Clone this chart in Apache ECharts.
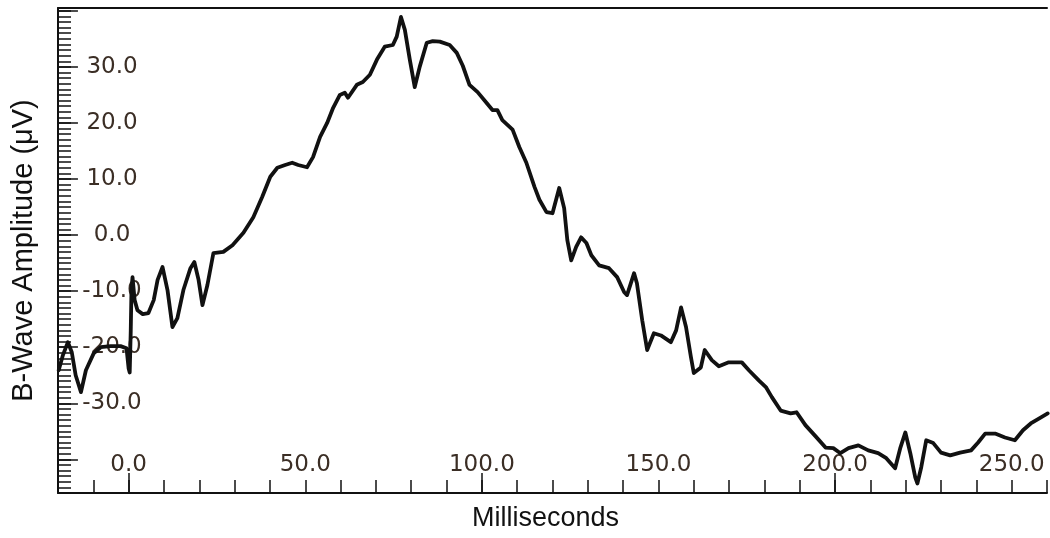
<!DOCTYPE html>
<html><head><meta charset="utf-8">
<script src="https://cdn.jsdelivr.net/npm/echarts@6/dist/echarts.min.js"></script>
<style>html,body{margin:0;padding:0;background:#fff}#c{width:1050px;height:538px}</style>
</head><body><div id="c"></div>
<script>
const msTime = [-19.8,-18.6,-17.2,-16.1,-15.0,-13.5,-12.1,-9.9,-7.9,-5.1,-2.3,-0.6,0.0,0.3,0.6,0.8,1.1,1.7,2.5,4.0,5.6,7.1,8.2,9.6,11.0,12.4,13.8,15.5,17.5,18.6,19.8,20.9,22.3,24.0,26.8,29.4,32.5,35.3,37.8,40.1,42.1,44.3,46.3,48.0,50.5,52.2,54.2,56.2,57.9,59.8,61.2,62.1,64.6,66.3,68.3,70.3,72.5,74.8,75.9,77.1,78.2,79.6,81.0,82.4,84.4,86.1,88.1,90.9,92.9,94.6,96.5,98.8,101.3,103.0,104.4,105.8,108.7,110.6,112.6,114.9,116.3,118.3,120.0,121.9,123.3,124.2,125.3,126.7,128.1,129.6,131.0,133.2,136.0,138.3,140.3,141.1,143.1,143.9,145.4,146.8,148.7,150.7,153.5,155.0,156.4,157.8,159.2,160.0,162.0,163.1,165.1,167.1,169.9,173.6,175.6,178.4,180.4,182.1,184.6,187.4,189.1,191.6,194.5,197.3,199.5,201.5,203.8,206.6,209.4,212.2,214.5,217.0,218.5,219.9,221.3,222.7,223.3,224.4,225.8,227.8,230.0,232.6,235.4,238.5,240.5,242.5,245.3,248.1,250.9,253.2,255.4,258.3,260.2];
const amplitude = [-24.1,-21.4,-19.1,-20.9,-25.0,-28.0,-24.1,-21.1,-20.0,-19.8,-19.8,-20.2,-23.8,-24.5,-17.0,-9.8,-7.5,-11.6,-13.4,-14.1,-13.9,-11.6,-8.0,-5.7,-9.8,-16.4,-14.8,-9.8,-5.9,-4.8,-8.0,-12.5,-8.9,-3.2,-3.0,-1.8,0.4,3.2,6.8,10.4,12.0,12.5,12.9,12.5,12.1,13.9,17.5,20.0,22.7,25.0,25.4,24.5,26.8,27.3,28.6,31.3,33.6,33.9,35.4,38.9,36.6,31.3,26.4,30.0,34.3,34.6,34.5,33.9,32.5,30.2,26.8,25.5,23.6,22.3,22.3,20.5,18.8,15.7,12.9,8.6,6.3,4.1,3.9,8.4,4.8,-0.9,-4.5,-2.1,-0.4,-1.4,-3.6,-5.4,-5.9,-7.5,-10.2,-10.7,-6.8,-8.6,-15.2,-20.5,-17.5,-17.9,-19.1,-17.0,-12.9,-16.4,-21.8,-24.6,-23.6,-20.5,-22.3,-23.4,-22.7,-22.7,-24.1,-25.9,-27.1,-28.9,-31.3,-31.8,-31.6,-33.9,-35.9,-37.9,-38.0,-38.9,-38.0,-37.5,-38.4,-38.9,-39.8,-41.6,-37.9,-35.2,-38.9,-43.2,-44.3,-41.4,-36.6,-37.1,-38.8,-39.3,-38.8,-38.4,-37.0,-35.4,-35.4,-36.1,-36.6,-34.8,-33.6,-32.5,-31.8];
const xLabelValues = [0, 50, 100, 150, 200, 250];
const yLabelValues = [-30, -20, -10, 0, 10, 20, 30];
const xMajorTicks = [0, 100, 200];
const yMajorTicks = [-40, -30, -20, -10, 0, 10, 20, 30, 40];

const X_MIN = -20, X_MAX = 260, Y_MIN = -46, Y_MAX = 40.5;
const GL = 58, GT = 8, GB = 45, W = 1050, H = 538;
const plotW = W - GL, plotH = H - GT - GB;
const MAJOR_LEN = 20;
const xLenData = MAJOR_LEN * (X_MAX - X_MIN) / plotW;
const yLenData = MAJOR_LEN * (Y_MAX - Y_MIN) / plotH;

const INK = '#111';
const LABEL_COLOR = '#3b2e25';
const labelFont = 'DejaVu Sans';

const majorTickLines = [];
xMajorTicks.forEach(v => majorTickLines.push([{coord: [v, Y_MIN]}, {coord: [v, Y_MIN + yLenData]}]));
yMajorTicks.forEach(v => majorTickLines.push([{coord: [X_MIN, v]}, {coord: [X_MIN + xLenData, v]}]));

const chart = echarts.init(document.getElementById('c'), null, {renderer: 'canvas'});
chart.setOption({
  animation: false,
  backgroundColor: '#fff',
  grid: {left: GL, right: 0, top: GT, bottom: GB, containLabel: false},
  xAxis: [{
    type: 'value', min: X_MIN, max: X_MAX, interval: 10, position: 'bottom',
    axisLine: {show: true, onZero: false, lineStyle: {color: INK, width: 2}},
    axisTick: {show: true, inside: true, length: 13, lineStyle: {color: INK, width: 1.5}},
    axisLabel: {
      inside: true, margin: 16, color: LABEL_COLOR, fontSize: 23, fontFamily: labelFont,
      showMinLabel: true, showMaxLabel: true,
      formatter: v => xLabelValues.includes(Math.round(v)) ? Math.round(v).toFixed(1) : ''
    },
    splitLine: {show: false},
    name: 'Milliseconds', nameLocation: 'middle', nameGap: 12,
    nameTextStyle: {fontSize: 27, color: INK, fontFamily: 'Liberation Sans', padding: [0, 14, 0, 0]}
  }, {
    type: 'value', min: X_MIN, max: X_MAX, position: 'top',
    axisLine: {show: true, onZero: false, lineStyle: {color: INK, width: 2}},
    axisTick: {show: false}, axisLabel: {show: false}, splitLine: {show: false}
  }],
  yAxis: {
    type: 'value', min: Y_MIN, max: Y_MAX, interval: 1,
    axisLine: {show: true, onZero: false, lineStyle: {color: INK, width: 2}},
    axisTick: {show: true, inside: true, length: 13, lineStyle: {color: INK, width: 1.5}},
    axisLabel: {
      inside: true, margin: 54, align: 'center', color: LABEL_COLOR, fontSize: 23, fontFamily: labelFont,
      formatter: v => yLabelValues.includes(Math.round(v)) && Math.abs(v - Math.round(v)) < 1e-6 ? Math.round(v).toFixed(1) : ''
    },
    splitLine: {show: false},
    name: 'B-Wave Amplitude (μV)', nameLocation: 'middle', nameGap: 20, nameRotate: 90,
    nameTextStyle: {fontSize: 29, color: INK, fontFamily: 'Liberation Sans'}
  },
  series: [{
    type: 'line', xAxisIndex: 0, yAxisIndex: 0,
    data: msTime.map((t, i) => [t, amplitude[i]]),
    showSymbol: false, smooth: false,
    lineStyle: {color: INK, width: 3.8, join: 'round', cap: 'round'},
    markLine: {
      silent: true, symbol: ['none', 'none'], label: {show: false},
      lineStyle: {color: INK, width: 1.5, type: 'solid'},
      emphasis: {disabled: true},
      data: majorTickLines
    }
  }]
});
</script></body></html>
